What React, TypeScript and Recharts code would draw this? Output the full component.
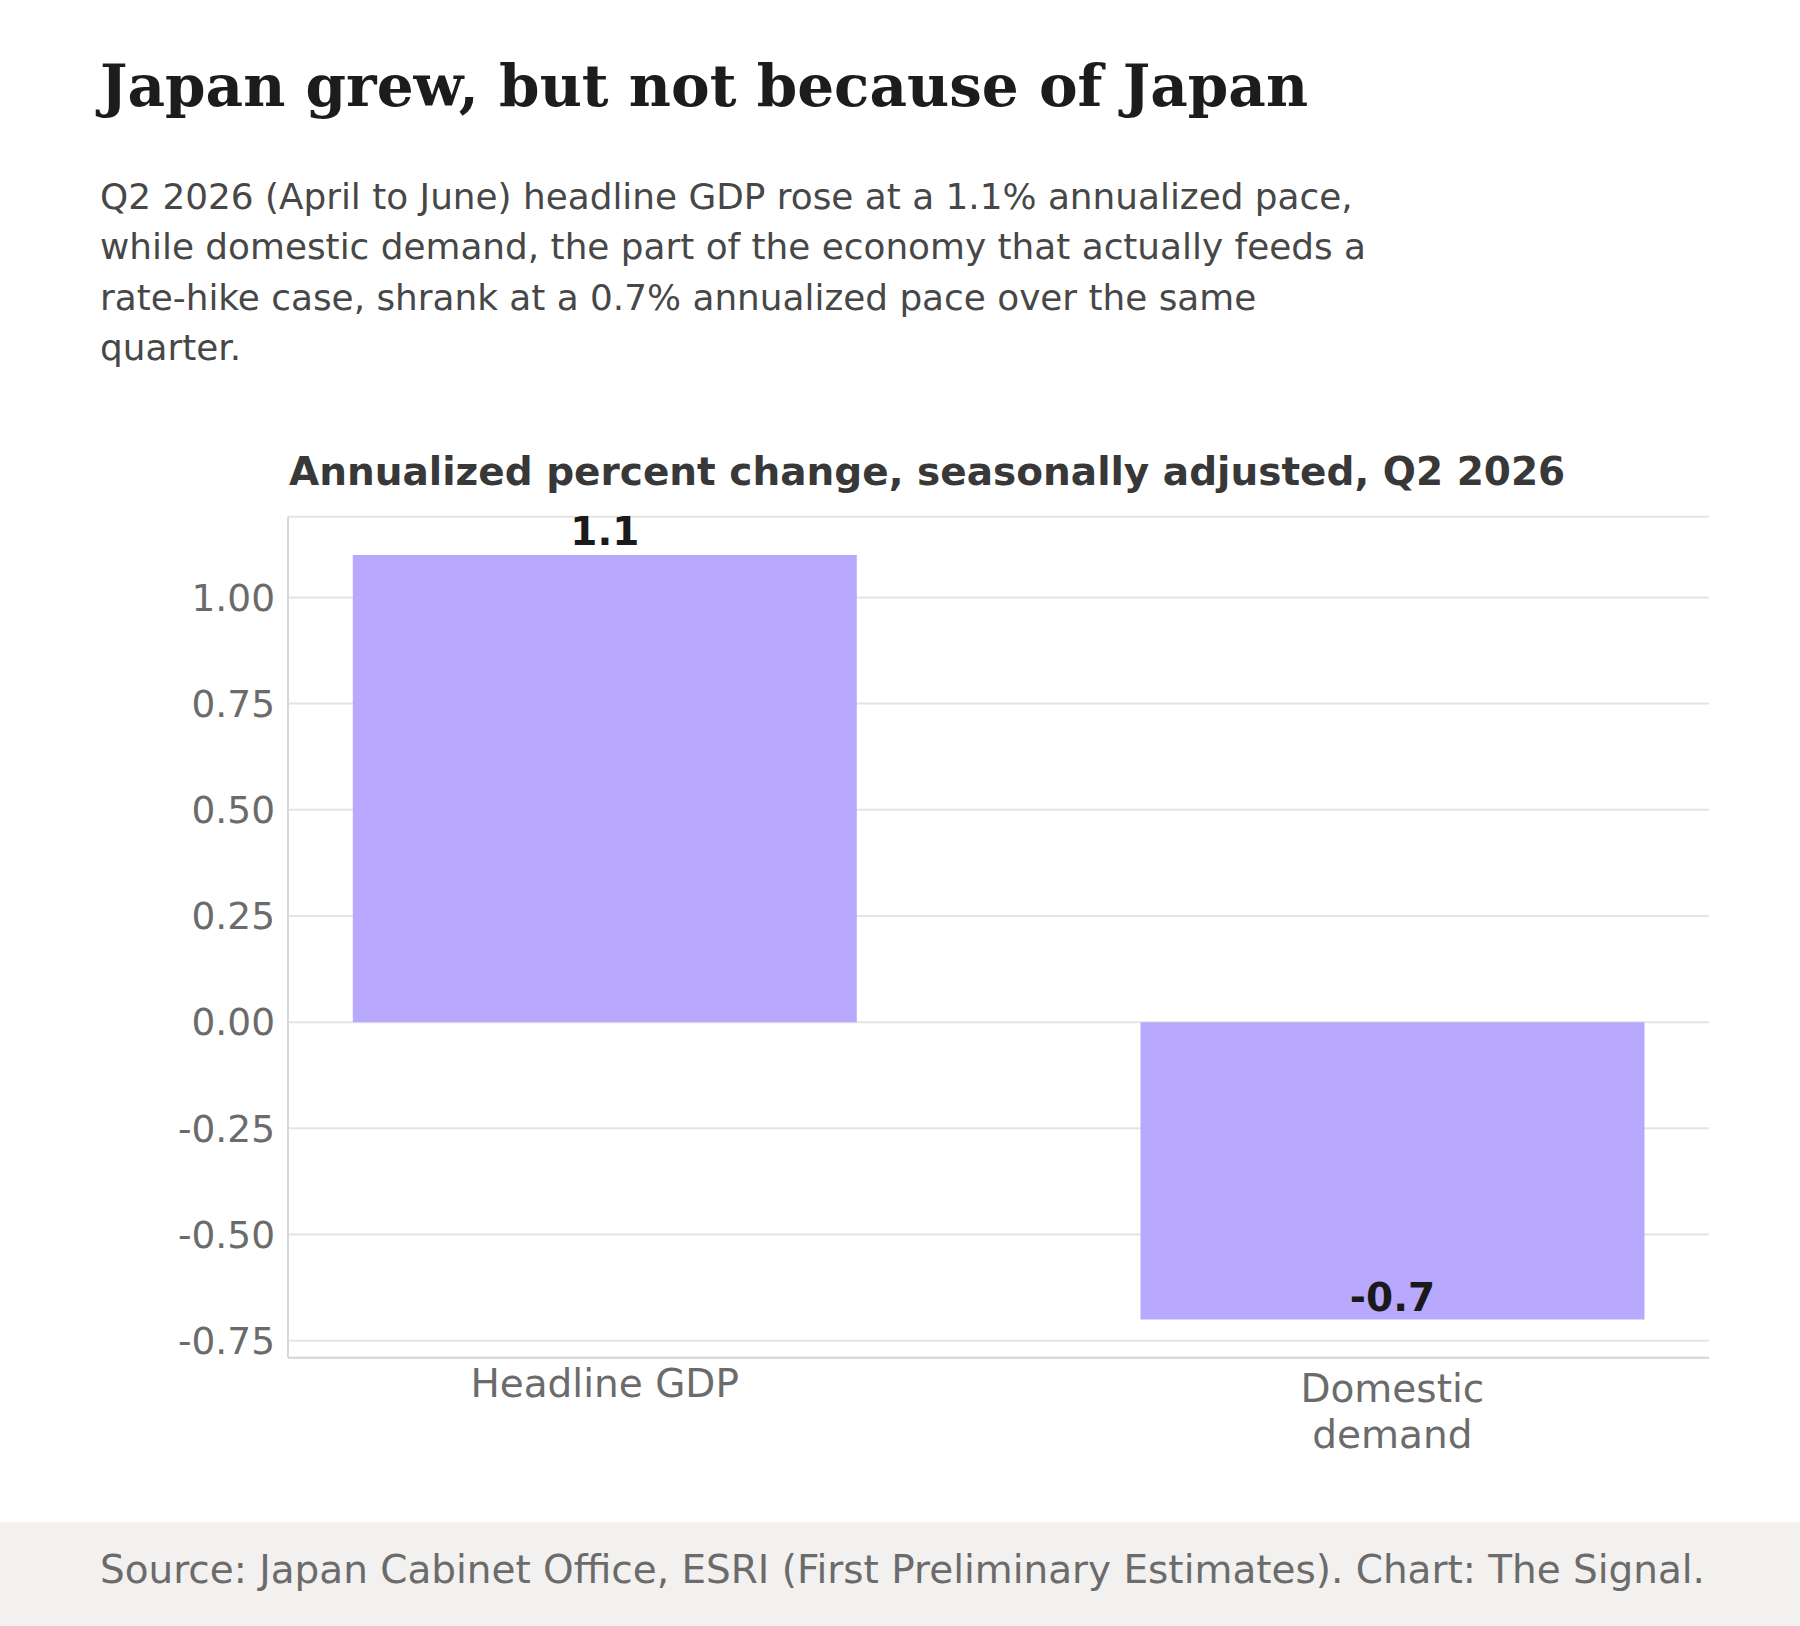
import React from 'react';
import { BarChart, Bar, XAxis, YAxis, CartesianGrid, LabelList } from 'recharts';

const categories = ['Headline GDP', 'Domestic demand'];
const values = [1.1, -0.7];
const valueLabels = ['1.1', '-0.7'];
const tickLines = [['Headline GDP'], ['Domestic', 'demand']];
const yTicks = [-0.75, -0.5, -0.25, 0, 0.25, 0.5, 0.75, 1.0];
const xTicks = [0, 1];

const titleText = 'Japan grew, but not because of Japan';
const subtitleLines = [
  'Q2 2026 (April to June) headline GDP rose at a 1.1% annualized pace,',
  'while domestic demand, the part of the economy that actually feeds a',
  'rate-hike case, shrank at a 0.7% annualized pace over the same',
  'quarter.',
];
const chartTitle = 'Annualized percent change, seasonally adjusted, Q2 2026';
const footerText = 'Source: Japan Cabinet Office, ESRI (First Preliminary Estimates). Chart: The Signal.';

const data = categories.map((name, i) => ({ pos: i, name, value: values[i] }));

const SANS = "'DejaVu Sans', sans-serif";
const SERIF = "'DejaVu Serif', serif";
const BAR_COLOR = '#b8a9ff';
const GRID_COLOR = '#e5e4e0';
const SPINE_COLOR = '#d9d8d2';
const TICK_COLOR = '#6b6b6b';

const XTick = (props: any) => {
  const { x, y, payload } = props;
  const lines = tickLines[payload.value] || [];
  const offsets = lines.length > 1 ? [44, 90.6] : [39.5];
  return (
    <g>
      {lines.map((ln: string, i: number) => (
        <text
          key={i}
          x={x}
          y={y + offsets[i]}
          textAnchor="middle"
          fontFamily={SANS}
          fontSize={39}
          fill={TICK_COLOR}
        >
          {ln}
        </text>
      ))}
    </g>
  );
};

const ValueLabel = (props: any) => {
  const { x, y, width, height, index } = props;
  const v = values[index];
  const top = Math.min(y, y + height);
  const bottom = Math.max(y, y + height);
  const ty = v >= 0 ? top - 10 : bottom - 8.8;
  return (
    <text
      x={x + width / 2}
      y={ty}
      textAnchor="middle"
      fontFamily={SANS}
      fontWeight="bold"
      fontSize={39}
      fill="#1a1a1a"
    >
      {valueLabels[index]}
    </text>
  );
};

export default function App() {
  return (
    <div style={{ position: 'absolute', left: 0, top: 0, width: 1800, height: 1626, background: '#ffffff', overflow: 'hidden' }}>
      <svg width={1800} height={1626} style={{ position: 'absolute', left: 0, top: 0 }}>
        <rect x={0} y={1522} width={1800} height={104} fill="#f2f1ef" />
        <text x={100} y={106} fontFamily={SERIF} fontWeight="bold" fontSize={58} fill="#1c1c1c">
          {titleText}
        </text>
        {subtitleLines.map((ln, i) => (
          <text key={i} x={100} y={208.5 + i * 50.5} fontFamily={SANS} fontSize={35.85} fill="#474747">
            {ln}
          </text>
        ))}
        <text x={289} y={485} fontFamily={SANS} fontWeight="bold" fontSize={39} fill="#383838">
          {chartTitle}
        </text>
        <text x={100} y={1583} fontFamily={SANS} fontSize={38.95} fill="#6b6b6b">
          {footerText}
        </text>
      </svg>
      <div style={{ position: 'absolute', left: 0, top: 440 }}>
        <BarChart
          width={1800}
          height={1080}
          data={data}
          margin={{ top: 76.7, right: 91, bottom: 42.3, left: 0 }}
        >
          <CartesianGrid vertical={false} stroke={GRID_COLOR} strokeWidth={2} />
          <XAxis
            dataKey="pos"
            type="number"
            domain={[-0.402, 1.402]}
            ticks={xTicks}
            interval={0}
            height={120}
            tickLine={false}
            tickSize={0}
            tickMargin={0}
            axisLine={{ stroke: SPINE_COLOR, strokeWidth: 2 }}
            tick={<XTick />}
          />
          <YAxis
            type="number"
            domain={[-0.79, 1.19]}
            ticks={yTicks}
            interval={0}
            width={288}
            tickLine={false}
            tickSize={0}
            tickMargin={13}
            axisLine={{ stroke: SPINE_COLOR, strokeWidth: 2 }}
            tickFormatter={(v: number) => v.toFixed(2)}
            tick={{ fontFamily: SANS, fontSize: 37.5, fill: TICK_COLOR }}
            allowDataOverflow
          />
          <Bar dataKey="value" fill={BAR_COLOR} barSize={504} isAnimationActive={false}>
            <LabelList dataKey="value" content={<ValueLabel />} />
          </Bar>
        </BarChart>
      </div>
    </div>
  );
}
